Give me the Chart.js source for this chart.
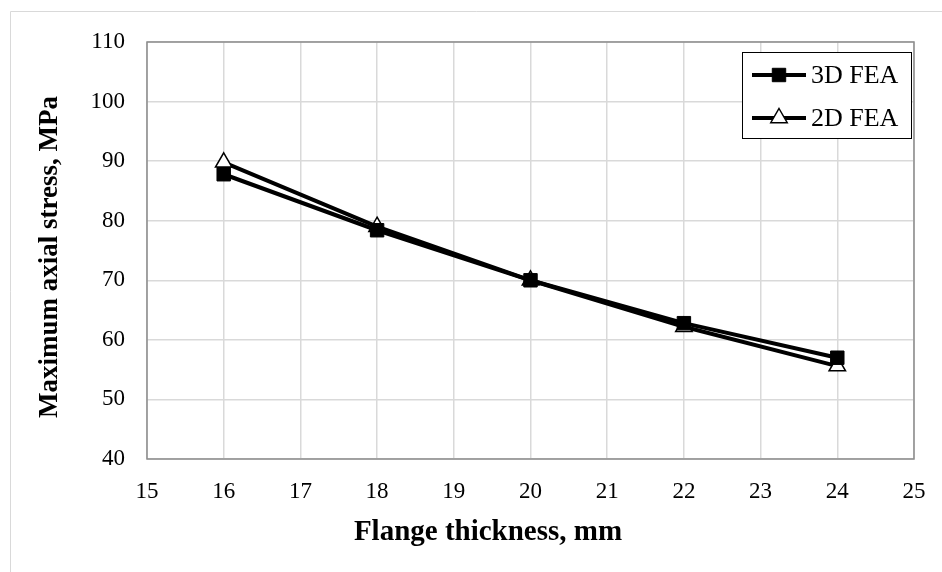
<!DOCTYPE html>
<html>
<head>
<meta charset="utf-8">
<script src="https://cdn.jsdelivr.net/npm/chart.js@4/dist/chart.umd.min.js"></script>
<style>
  html, body { margin: 0; padding: 0; background: #fff; }
  #wrap { width: 942px; height: 572px; }
</style>
</head>
<body>
<div id="wrap"><canvas id="myChart" width="942" height="572"></canvas></div>
<script>
// data
const thickness = [16, 18, 20, 22, 24];
const fea3d = [87.8, 78.4, 70.0, 62.8, 57.0];
const fea2d = [89.8, 79.0, 70.0, 62.2, 55.6];
const seriesNames = ["3D FEA", "2D FEA"];
const xTitle = "Flange thickness, mm";
const yTitle = "Maximum axial stress, MPa";

const serif = "'Liberation Serif', 'Times New Roman', serif";

// light outer frame + gray plot border
const frame = {
  id: "frame",
  beforeDraw(chart) {
    const c = chart.ctx;
    c.save();
    c.strokeStyle = "#d9d9d9";
    c.lineWidth = 1;
    c.beginPath();
    c.moveTo(10.5, 572);
    c.lineTo(10.5, 11.5);
    c.lineTo(942, 11.5);
    c.stroke();
    c.restore();
  },
  beforeDatasetsDraw(chart) {
    const a = chart.chartArea;
    const c = chart.ctx;
    c.save();
    c.strokeStyle = "#8c8c8c";
    c.lineWidth = 1.5;
    c.strokeRect(a.left, a.top, a.right - a.left, a.bottom - a.top);
    c.restore();
  }
};

// axis titles, placed like the Excel original (centred on the whole chart)
const axisTitles = {
  id: "axisTitles",
  afterDraw(chart) {
    const c = chart.ctx;
    c.save();
    c.fillStyle = "#000";
    c.textAlign = "center";
    c.textBaseline = "middle";
    c.font = "bold 29px " + serif;
    c.fillText(xTitle, 488, 533);
    c.translate(50, 257);
    c.rotate(-Math.PI / 2);
    c.font = "bold 27px " + serif;
    c.fillText(yTitle, 0, 0);
    c.restore();
  }
};

// legend box inside the plot, top right
const boxLegend = {
  id: "boxLegend",
  afterDraw(chart) {
    const c = chart.ctx;
    const x0 = 742, y0 = 52, w = 169, h = 86;
    c.save();
    c.fillStyle = "#fff";
    c.fillRect(x0, y0, w, h);
    c.strokeStyle = "#000";
    c.lineWidth = 1;
    c.strokeRect(x0 + 0.5, y0 + 0.5, w, h);
    const rows = [75, 118];
    chart.data.datasets.forEach((ds, i) => {
      const y = rows[i];
      c.strokeStyle = ds.borderColor;
      c.lineWidth = ds.borderWidth;
      c.beginPath();
      c.moveTo(752, y);
      c.lineTo(806, y);
      c.stroke();
      const cx = 779;
      c.lineWidth = ds.pointBorderWidth;
      c.fillStyle = ds.pointBackgroundColor;
      c.strokeStyle = ds.pointBorderColor;
      c.beginPath();
      if (ds.pointStyle === "rect") {
        const s = ds.pointRadius * Math.SQRT1_2;
        c.rect(cx - s, y - s, 2 * s, 2 * s);
      } else {
        const r = ds.pointRadius;
        c.moveTo(cx, y - r);
        c.lineTo(cx + r * 0.866, y + r / 2);
        c.lineTo(cx - r * 0.866, y + r / 2);
        c.closePath();
      }
      c.fill();
      c.stroke();
      c.fillStyle = "#000";
      c.font = "26px " + serif;
      c.textBaseline = "middle";
      c.textAlign = "left";
      c.fillText(ds.label, 811, y + 1);
    });
    c.restore();
  }
};

const ctx = document.getElementById("myChart");

new Chart(ctx, {
  type: "line",
  data: {
    datasets: [
      {
        label: seriesNames[0],
        data: thickness.map((x, i) => ({ x: x, y: fea3d[i] })),
        borderColor: "#000",
        borderWidth: 4,
        pointStyle: "rect",
        pointRadius: 9.5,
        pointBorderWidth: 1,
        pointBackgroundColor: "#000",
        pointBorderColor: "#000",
        tension: 0
      },
      {
        label: seriesNames[1],
        data: thickness.map((x, i) => ({ x: x, y: fea2d[i] })),
        borderColor: "#000",
        borderWidth: 4,
        pointStyle: "triangle",
        pointRadius: 9.5,
        pointBorderWidth: 1.5,
        pointBackgroundColor: "#fff",
        pointBorderColor: "#000",
        tension: 0
      }
    ]
  },
  options: {
    responsive: false,
    animation: false,
    layout: { padding: { left: 0, right: 28, top: 42, bottom: 0 } },
    plugins: {
      legend: { display: false },
      tooltip: { enabled: false }
    },
    scales: {
      x: {
        type: "linear",
        min: 15,
        max: 25,
        afterFit: (s) => {
          s.height = 113;
          s.paddingLeft = 0;
          s.paddingRight = 0;
        },
        ticks: {
          stepSize: 1,
          padding: 19,
          color: "#000",
          font: { family: serif, size: 23 }
        },
        grid: { color: "#d9d9d9", lineWidth: 1.5, drawTicks: false },
        border: { display: false }
      },
      y: {
        min: 40,
        max: 110,
        afterFit: (s) => { s.width = 147; },
        ticks: {
          stepSize: 5,
          padding: 22,
          color: "#000",
          font: { family: serif, size: 23 },
          callback: (v) => (v % 10 === 0 ? v : "")
        },
        grid: {
          color: (c) => (c.tick && c.tick.value % 10 === 0 ? "#d9d9d9" : "#efefef"),
          lineWidth: 1.5,
          drawTicks: false
        },
        border: { display: false }
      }
    }
  },
  plugins: [frame, axisTitles, boxLegend]
});
</script>
</body>
</html>
